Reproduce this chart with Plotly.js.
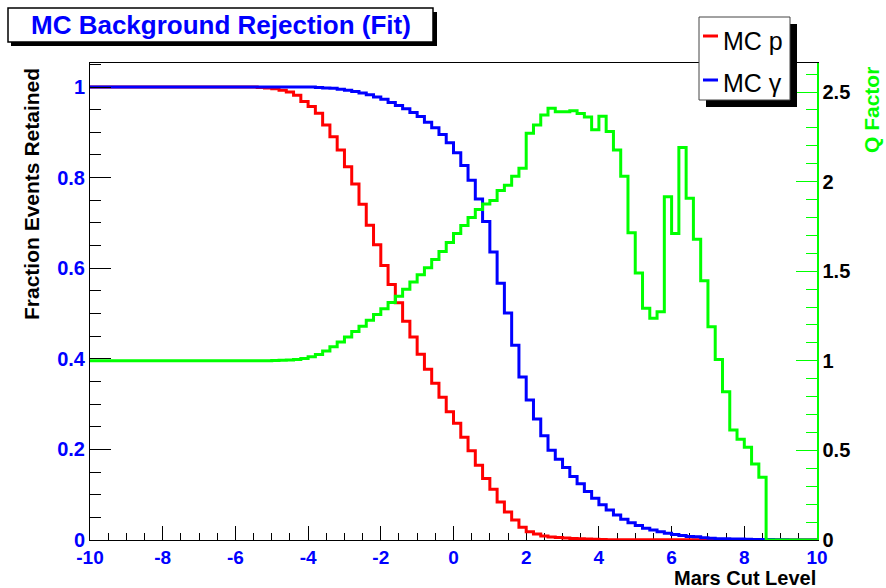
<!DOCTYPE html>
<html>
<head>
<meta charset="utf-8">
<script src="https://cdn.plot.ly/plotly-3.0.1.min.js"></script>
<style>
  html, body { margin: 0; padding: 0; background: #fff; }
  #chart { width: 886px; height: 588px; }
</style>
</head>
<body>
<div id="chart"></div>
<script>
// Mars cut scan: 100 bins of width 0.2 between -10 and 10
const cutLow = -10;
const cutHigh = 10;
const binWidth = 0.2;

// Fraction of MC protons retained per cut bin
const protonFraction = [
  1, 1, 1, 1, 1, 1, 1, 1, 1, 1,
  1, 1, 1, 1, 1, 1, 1, 1, 1, 1,
  1, 1, 1, 0.999, 0.998, 0.996, 0.993, 0.989, 0.982, 0.968,
  0.957, 0.942, 0.916, 0.890, 0.861, 0.824, 0.786, 0.741, 0.695, 0.652,
  0.606, 0.564, 0.524, 0.483, 0.448, 0.410, 0.377, 0.346, 0.315, 0.283,
  0.258, 0.227, 0.197, 0.165, 0.136, 0.112, 0.084, 0.062, 0.044, 0.028,
  0.018, 0.013, 0.009, 0.0068, 0.0055, 0.0045, 0.0034, 0.0027, 0.0021, 0.0016,
  0.0011, 0.0008, 0.0006, 0.0005, 0.0005, 0.0005, 0.0005, 0.0004, 0.0004, 0.0004,
  0.0004, 0.0003, 0.0003, 0.0003, 0.0003, 0.0002, 0.0002, 0.0002, 0.0002, 0.0001,
  0.0001, 0.0001, 0.0001, 0, 0, 0, 0, 0, 0, 0
];

// Fraction of MC gammas retained per cut bin
const gammaFraction = [
  1, 1, 1, 1, 1, 1, 1, 1, 1, 1,
  1, 1, 1, 1, 1, 1, 1, 1, 1, 1,
  1, 1, 1, 1, 1, 1, 1, 1, 1, 1,
  1, 0.999, 0.998, 0.997, 0.995, 0.993, 0.990, 0.987, 0.983, 0.978,
  0.973, 0.966, 0.959, 0.952, 0.944, 0.935, 0.922, 0.910, 0.895, 0.877,
  0.855, 0.827, 0.794, 0.753, 0.703, 0.636, 0.567, 0.501, 0.430, 0.360,
  0.309, 0.267, 0.230, 0.198, 0.178, 0.160, 0.140, 0.124, 0.107, 0.092,
  0.078, 0.066, 0.055, 0.046, 0.038, 0.032, 0.026, 0.022, 0.018, 0.015,
  0.012, 0.010, 0.008, 0.007, 0.005, 0.004, 0.003, 0.003, 0.002, 0.002,
  0.0015, 0.001, 0.001, 0.001, 0.0005, 0.0005, 0, 0, 0, 0
];

// Quality factor per cut bin (right axis)
const qFactor = [
  1, 1, 1, 1, 1, 1, 1, 1, 1, 1,
  1, 1, 1, 1, 1, 1, 1, 1, 1, 1,
  1, 1, 1, 1, 1.001, 1.002, 1.003, 1.005, 1.008, 1.013,
  1.022, 1.035, 1.055, 1.078, 1.105, 1.133, 1.163, 1.193, 1.226, 1.258,
  1.290, 1.325, 1.360, 1.400, 1.440, 1.480, 1.520, 1.565, 1.610, 1.660,
  1.710, 1.755, 1.800, 1.845, 1.875, 1.895, 1.950, 1.980, 2.030, 2.075,
  2.270, 2.316, 2.372, 2.410, 2.390, 2.390, 2.396, 2.380, 2.360, 2.290,
  2.365, 2.280, 2.176, 2.030, 1.715, 1.490, 1.293, 1.237, 1.274, 1.916,
  1.711, 2.190, 1.907, 1.678, 1.447, 1.190, 1.008, 0.828, 0.614, 0.562,
  0.517, 0.424, 0.350, 0, 0, 0, 0, 0, 0, 0
];

const seriesNames = ['MC p', 'MC \u03b3'];
const xTickVals = [-10, -8, -6, -4, -2, 0, 2, 4, 6, 8, 10];
const xTickText = ['-10', '-8', '-6', '-4', '-2', '0', '2', '4', '6', '8', '10'];
const yTickVals = [0, 0.2, 0.4, 0.6, 0.8, 1];
const yTickText = ['0', '0.2', '0.4', '0.6', '0.8', '1'];
const qTickVals = [0, 0.5, 1, 1.5, 2, 2.5];
const qTickText = ['0', '0.5', '1', '1.5', '2', '2.5'];

const RED = '#ff0000', BLUE = '#0000ff', GREEN = '#00ff00';
const FONT = 'Liberation Sans, Arial, Helvetica, sans-serif';

// Histogram outline: bin edges with the last content repeated for the closing step
function stepTrace(values, color, yaxis) {
  const x = [], y = [];
  for (let i = 0; i <= values.length; i++) {
    x.push(cutLow + i * binWidth);
    y.push(values[Math.min(i, values.length - 1)]);
  }
  return {
    x: x, y: y, type: 'scatter', mode: 'lines', yaxis: yaxis,
    line: { shape: 'hv', color: color, width: 3 },
    hoverinfo: 'skip'
  };
}

const traces = [
  stepTrace(protonFraction, RED, 'y'),
  stepTrace(gammaFraction, BLUE, 'y'),
  stepTrace(qFactor, GREEN, 'y2')
];

// Frame geometry in pixels, converted to paper coordinates for boxes and labels
const M = { l: 90, r: 69, t: 63, b: 48 };
const W = 886, H = 588;
const PW = W - M.l - M.r, PH = H - M.t - M.b;
const px = p => (p - M.l) / PW;
const py = p => (H - M.b - p) / PH;

const shapes = [
  // title box with drop shadow
  { type: 'rect', xref: 'paper', yref: 'paper', x0: px(11), x1: px(437), y0: py(12), y1: py(46),
    fillcolor: '#000', line: { width: 0 }, layer: 'above' },
  { type: 'rect', xref: 'paper', yref: 'paper', x0: px(8), x1: px(433), y0: py(8), y1: py(42),
    fillcolor: '#fff', line: { color: '#000', width: 1.5 }, layer: 'above' },
  // legend box with drop shadow
  { type: 'rect', xref: 'paper', yref: 'paper', x0: px(706), x1: px(797), y0: py(24), y1: py(107),
    fillcolor: '#000', line: { width: 0 }, layer: 'above' },
  { type: 'rect', xref: 'paper', yref: 'paper', x0: px(699), x1: px(790), y0: py(17), y1: py(100),
    fillcolor: '#fff', line: { color: '#444', width: 1 }, layer: 'above' },
  // legend line samples
  { type: 'line', xref: 'paper', yref: 'paper', x0: px(703), x1: px(718), y0: py(36), y1: py(36),
    line: { color: RED, width: 3 }, layer: 'above' },
  { type: 'line', xref: 'paper', yref: 'paper', x0: px(703), x1: px(718), y0: py(80), y1: py(80),
    line: { color: BLUE, width: 3 }, layer: 'above' }
];

const annotations = [
  { text: 'MC Background Rejection (Fit)', xref: 'paper', yref: 'paper', x: px(220.5), y: py(25),
    xanchor: 'center', yanchor: 'middle', showarrow: false,
    font: { family: FONT, size: 26, color: BLUE, weight: 'bold' } },
  { text: seriesNames[0], xref: 'paper', yref: 'paper', x: px(721), y: py(41),
    xanchor: 'left', yanchor: 'middle', showarrow: false,
    font: { family: FONT, size: 25, color: '#000' } },
  { text: seriesNames[1], xref: 'paper', yref: 'paper', x: px(721), y: py(83),
    xanchor: 'left', yanchor: 'middle', showarrow: false,
    font: { family: FONT, size: 25, color: '#000' } },
  { text: 'Fraction Events Retained', xref: 'paper', yref: 'paper', x: px(31), y: py(66),
    xanchor: 'center', yanchor: 'top', textangle: -90, showarrow: false,
    font: { family: FONT, size: 21, color: '#000', weight: 'bold' } },
  { text: 'Q Factor', xref: 'paper', yref: 'paper', x: px(872), y: py(65),
    xanchor: 'center', yanchor: 'top', textangle: -90, showarrow: false,
    font: { family: FONT, size: 21, color: GREEN, weight: 'bold' } },
  { text: 'Mars Cut Level', xref: 'paper', yref: 'paper', x: 1, y: py(578),
    xanchor: 'right', yanchor: 'middle', showarrow: false, borderpad: 0,
    font: { family: FONT, size: 20, color: '#000', weight: 'bold' } }
];

const layout = {
  width: W, height: H,
  margin: { l: M.l, r: M.r, t: M.t, b: M.b, pad: 0 },
  paper_bgcolor: '#fff', plot_bgcolor: '#fff',
  showlegend: false,
  font: { family: FONT },
  xaxis: {
    range: [cutLow, cutHigh], tickmode: 'array', tickvals: xTickVals, ticktext: xTickText,
    ticks: 'inside', ticklen: 14, tickwidth: 1, tickcolor: '#000',
    showline: true, linecolor: '#000', linewidth: 1, mirror: true,
    showgrid: false, zeroline: false, layer: 'below traces',
    tickfont: { family: FONT, size: 19, color: BLUE, weight: 'bold' },
    minor: { ticks: 'inside', ticklen: 7, tickcolor: '#000', dtick: 0.5, tick0: cutLow, showgrid: false }
  },
  yaxis: {
    range: [0, 1.053], tickmode: 'array', tickvals: yTickVals, ticktext: yTickText,
    ticks: 'inside', ticklen: 21, tickwidth: 1, tickcolor: '#000',
    showline: true, linecolor: '#000', linewidth: 1,
    showgrid: false, zeroline: false,
    tickfont: { family: FONT, size: 20, color: BLUE, weight: 'bold' },
    minor: { ticks: 'inside', ticklen: 11, tickcolor: '#000', dtick: 0.05, tick0: 0, showgrid: false }
  },
  yaxis2: {
    overlaying: 'y', side: 'right', anchor: 'x',
    range: [0, 2.662], tickmode: 'array', tickvals: qTickVals, ticktext: qTickText,
    ticks: 'inside', ticklen: 21, tickwidth: 1, tickcolor: GREEN,
    showline: true, linecolor: GREEN, linewidth: 1.5,
    showgrid: false, zeroline: false,
    tickfont: { family: FONT, size: 20, color: '#000', weight: 'bold' },
    minor: { ticks: 'inside', ticklen: 11, tickcolor: GREEN, dtick: 0.1, tick0: 0, showgrid: false }
  },
  shapes: shapes,
  annotations: annotations
};

Plotly.newPlot('chart', traces, layout, { staticPlot: true, displayModeBar: false });
</script>
</body>
</html>
